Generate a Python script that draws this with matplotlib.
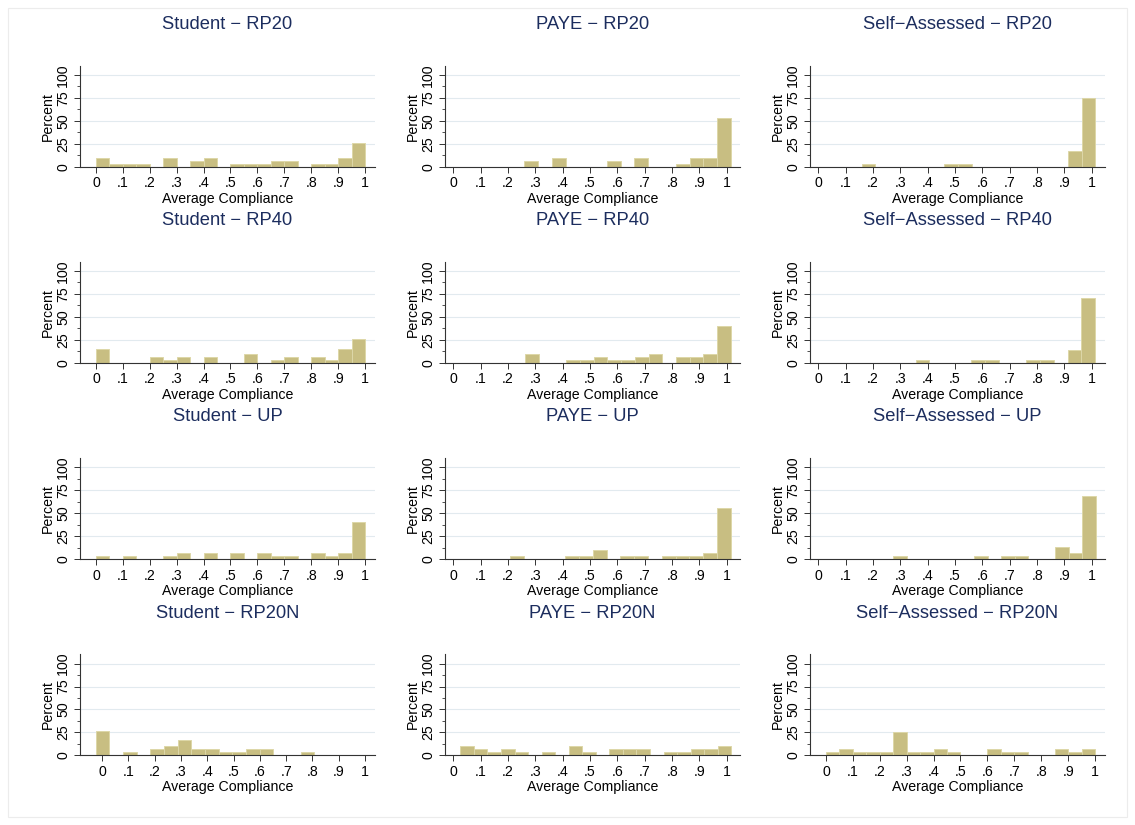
"""Histograms of average compliance by group and treatment."""

import matplotlib

matplotlib.use("Agg")
import matplotlib.pyplot as plt
from matplotlib.patches import Rectangle
import numpy as np

plt.rcParams["font.family"] = ["Liberation Sans", "DejaVu Sans"]

groups = ["Student", "PAYE", "Self\u2212Assessed"]
treatments = ["RP20", "RP40", "UP", "RP20N"]

# bin origin, bin width and bar heights (percent) read per panel, row by row
bin_starts = [
    0.0, 0.26, 0.159,
    0.0, 0.263, 0.356,
    0.0, 0.208, 0.275,
    -0.025, 0.026, 0.0,
]
bin_widths = [
    0.05, 0.0503, 0.0502,
    0.05, 0.0501, 0.0505,
    0.05, 0.0504, 0.0493,
    0.052, 0.0495, 0.05,
]
percents = [
    [9, 3, 3, 3, 0, 9, 0, 6, 9, 0, 3, 3, 3, 6, 6, 0, 3, 3, 9, 26],
    [6, 0, 9, 0, 0, 0, 6, 0, 9, 0, 0, 3, 9, 9, 53.5],
    [3.3, 0, 0, 0, 0, 0, 3.3, 3.3, 0, 0, 0, 0, 0, 0, 0, 17, 75],
    [14.5, 0, 0, 0, 6, 3, 6, 0, 6, 0, 0, 9, 0, 3, 6, 0, 6, 3, 14.5, 26],
    [9, 0, 0, 3, 3, 6, 3, 3, 6, 9, 0, 6, 6, 9, 40],
    [3.4, 0, 0, 0, 3.4, 3.4, 0, 0, 3.4, 3.4, 0, 13.8, 70.5],
    [3.3, 0, 3.3, 0, 0, 3.3, 6.7, 0, 6.7, 0, 6.7, 0, 6.7, 3.3, 3.3, 0, 6.7, 3.3, 6.7, 40.5],
    [3.45, 0, 0, 0, 3.45, 3.45, 10.3, 0, 3.45, 3.45, 0, 3.45, 3.45, 3.45, 6.9, 56],
    [3.4, 0, 0, 0, 0, 0, 3.4, 0, 3.4, 3.4, 0, 0, 13.3, 6.8, 69],
    [26.7, 0, 3.3, 0, 6.7, 10, 16.7, 6.7, 6.7, 3.3, 3.3, 6.7, 6.7, 0, 0, 3.3],
    [10.3, 6.9, 3.45, 6.9, 3.45, 0, 3.45, 0, 10.3, 3.45, 0, 6.9, 6.9, 6.9, 0, 3.45, 3.45, 6.9, 6.9, 10.3],
    [3.7, 7.4, 3.7, 3.7, 3.7, 25.9, 3.7, 3.7, 7.4, 3.7, 0, 0, 7.4, 3.7, 3.7, 0, 0, 7.4, 3.7, 7.4],
]
x_ranges = [
    (-0.059, 1.037), (-0.030, 1.048), (-0.030, 1.048),
    (-0.059, 1.037), (-0.030, 1.048), (-0.030, 1.048),
    (-0.059, 1.037), (-0.030, 1.048), (-0.030, 1.048),
    (-0.084, 1.038), (-0.030, 1.048), (-0.059, 1.037),
]
x_ticks = [i / 10 for i in range(11)]
x_tick_labels = ["0", ".1", ".2", ".3", ".4", ".5", ".6", ".7", ".8", ".9", "1"]
y_ticks = [0, 25, 50, 75, 100]

W, H = 1135, 825
fig = plt.figure(figsize=(W / 100, H / 100), dpi=100)
fig.patch.set_facecolor("white")
fig.add_artist(Rectangle((8 / W, 8 / H), 1 - 16 / W, 1 - 16 / H, transform=fig.transFigure,
                         fill=False, edgecolor="#ececec", linewidth=0.8))

col_left = [80, 445, 810]
row_bottom = [166.7, 362.7, 559.0, 755.3]
ax_w, ax_h = 295, 100.9

bar_color = "#c8be82"
edge_color = "#ddd7a8"
title_color = "#1c2d5e"
label_size = 10.2

for idx in range(12):
    r, c = divmod(idx, 3)
    ax = fig.add_axes([col_left[c] / W, 1 - row_bottom[r] / H, ax_w / W, ax_h / H])
    heights = np.array(percents[idx], dtype=float)
    lefts = bin_starts[idx] + bin_widths[idx] * np.arange(len(heights))
    keep = heights > 0
    ax.bar(lefts[keep], heights[keep], width=bin_widths[idx], align="edge",
           color=bar_color, edgecolor=edge_color, linewidth=0.7, zorder=2)

    ax.set_xlim(*x_ranges[idx])
    ax.set_ylim(0, 110)
    ax.set_xticks(x_ticks)
    ax.set_xticklabels(x_tick_labels, fontsize=label_size)
    ax.set_yticks(y_ticks)
    ax.set_yticklabels([str(v) for v in y_ticks], fontsize=label_size, rotation=90, va="center")
    ax.set_yticks(np.arange(12.5, 110, 25), minor=True)
    ax.tick_params(axis="both", which="major", length=4, width=0.7, color="#333333", pad=3)
    ax.tick_params(axis="y", which="minor", length=2, width=0.6, color="#333333")
    ax.grid(axis="y", which="major", color="#e2eaef", linewidth=0.8, zorder=0)
    for v in ["top", "right"]:
        ax.spines[v].set_visible(False)
    for v in ["left", "bottom"]:
        ax.spines[v].set_linewidth(0.8)
        ax.spines[v].set_color("#333333")
    ax.set_axisbelow(True)

    ax.set_xlabel("Average Compliance", fontsize=label_size, labelpad=1)
    ax.set_ylabel("Percent", fontsize=label_size, labelpad=1)
    ax.set_title(f"{groups[c]} \u2212 {treatments[r]}", fontsize=13.2, color=title_color, pad=26.5)

fig.savefig("out.png", dpi=100, facecolor="white")
